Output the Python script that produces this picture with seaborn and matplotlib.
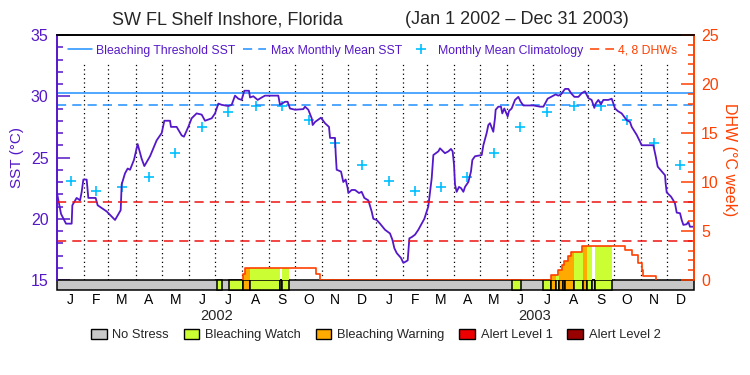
import numpy as np
import pandas as pd
import seaborn as sns
import matplotlib.pyplot as plt
from matplotlib.patches import Patch
from matplotlib.lines import Line2D

# ---- data (x = days since 1 Jan 2002) ----
sst_day = [0, 4.6, 10.3, 16.8, 17.6, 22.5, 26.4, 28.3, 30.2, 34.0, 35.9, 44.3, 46.6, 56.9, 66.5,
           73.0, 74.1, 77.9, 81.0, 83.7, 88.2, 92.4, 97.0, 100.1, 106.6, 114.2, 120.0, 123.0,
           129.5, 130.6, 137.1, 142.9, 145.5, 150.5, 154.3, 160.0, 165.8, 169.6, 177.3, 181.1,
           184.9, 188.7, 196.4, 200.2, 204.0, 207.8, 211.6, 214.7, 220.0, 221.2, 225.0, 230.0,
           234.6, 238.4, 253.6, 255.6, 261.3, 264.3, 267.0, 272.8, 282.3, 284.2, 288.0, 291.9,
           293.0, 295.7, 302.5, 307.1, 311.7, 312.9, 318.6, 319.4, 320.5, 325.5, 328.1, 330.8,
           333.1, 333.9, 337.7, 341.5, 346.1, 349.1, 352.2, 356.8, 360.6, 362.5, 366.3, 370.2,
           375.9, 381.6, 384.3, 386.6, 389.3, 394.2, 396.9, 399.6, 401.9, 403.8, 406.5, 410.3,
           414.1, 417.9, 421.0, 425.5, 427.5, 429.4, 431.3, 437.0, 438.9, 444.6, 448.5, 451.5,
           453.4, 455.0, 456.1, 458.0, 460.7, 463.0, 465.7, 467.6, 471.4, 474.4, 476.0, 479.0,
           486.7, 488.6, 492.4, 494.3, 496.2, 500.0, 501.9, 502.7, 505.8, 508.8, 510.3, 512.6,
           516.5, 518.0, 521.0, 524.9, 528.7, 531.4, 534.4, 545.9, 553.5, 557.4, 562.3, 568.8,
           571.5, 574.5, 577.6, 582.2, 586.0, 589.1, 592.9, 597.5, 601.3, 605.1, 608.9, 612.7,
           615.8, 617.3, 620.4, 623.4, 626.1, 631.8, 635.7, 637.6, 639.5, 642.5, 647.1, 652.9,
           656.7, 658.6, 664.3, 668.1, 670.0, 683.4, 686.1, 688.4, 694.9, 696.8, 697.5, 698.7,
           703.7, 706.3, 708.2, 710.2, 714.0, 715.9, 717.8, 721.6, 723.5, 725.4, 730.0]
sst_val = [22.1, 20.4, 19.6, 19.6, 21.1, 21.7, 21.5, 22.2, 23.2, 23.2, 21.7, 21.7, 21.1, 20.6, 19.9,
           20.7, 22.8, 23.7, 24.1, 24.0, 24.8, 26.1, 24.9, 24.3, 25.1, 26.4, 27.0, 28.0,
           28.0, 27.5, 27.5, 26.8, 26.7, 27.5, 28.2, 28.6, 28.5, 28.0, 28.2, 28.6,
           29.4, 29.3, 29.2, 29.3, 30.05, 29.8, 29.7, 30.45, 30.45, 29.9, 30.0, 29.7,
           29.9, 30.05, 30.05, 29.3, 29.55, 29.55, 29.0, 28.9, 28.95, 29.15, 28.9, 28.2,
           27.65, 27.9, 28.25, 27.8, 27.5, 26.6, 26.6, 25.3, 24.0, 23.85, 23.0, 23.2,
           22.5, 22.1, 22.35, 22.35, 22.1, 22.2, 21.7, 21.5, 20.6, 20.0, 19.9, 19.6,
           19.1, 18.8, 18.3, 17.6, 17.2, 16.8, 16.4, 16.5, 16.6, 18.4, 18.5, 18.7,
           19.1, 19.6, 20.0, 21.0, 22.2, 23.3, 25.2, 25.5, 25.75, 25.35, 25.5, 25.7,
           25.5, 24.4, 22.8, 22.2, 22.6, 22.5, 22.2, 22.6, 23.0, 23.85, 24.8, 25.1,
           25.2, 26.0, 27.0, 27.65, 27.8, 27.1, 28.2, 28.9, 29.15, 29.15, 28.6, 29.0,
           28.35, 28.8, 29.0, 29.7, 29.95, 29.55, 29.25, 29.25, 29.15, 29.15, 29.8, 30.05,
           30.15, 30.05, 30.15, 30.6, 30.6, 30.25, 29.95, 29.95, 30.25, 30.4, 29.85, 29.7,
           29.05, 29.4, 29.7, 29.35, 29.7, 29.7, 29.8, 29.4, 29.0, 28.8, 28.6, 28.05,
           27.9, 27.5, 26.85, 26.3, 26.0, 26.0, 25.1, 24.25, 23.7, 23.55, 22.9, 22.15,
           21.8, 21.5, 21.25, 20.5, 20.45, 19.9, 19.5, 19.55, 19.75, 19.35, 19.35]

clim_sst = [23.1, 22.3, 22.6, 23.4, 25.4, 27.5, 28.7, 29.2, 29.2, 28.1, 26.2, 24.4]
mmm_sst = 29.25
threshold_sst = 30.25
dhw_marks = [4, 8]

dhw_day = [212.8, 212.8, 215.1, 296.8, 301.4,
           566.5, 566.5, 574.1, 578.2, 581.4, 585.3, 588.5, 602.0, 651.0, 659.0, 665.9, 670.1,
           671.9, 686.5]
dhw_val = [0, 0.6, 1.2, 0.6, 0,
           0, 0.5, 1.0, 1.5, 1.9, 2.4, 2.9, 3.5, 3.05, 2.55, 1.7, 1.0, 0.45, 0]

stress_start = [183.0, 196.8, 213.0, 221.5, 255.9, 258.2,
                521.8, 557.3, 566.5, 571.5, 575.3, 579.5, 582.2, 592.8, 602.4, 607.0, 613.5, 616.5]
stress_end = [188.7, 213.0, 221.5, 255.9, 258.2, 266.2,
              532.1, 566.5, 571.5, 575.3, 579.5, 582.2, 592.8, 602.4, 607.0, 613.5, 616.5, 636.4]
stress_level = [1, 1, 2, 1, 0, 1,
                1, 1, 2, 1, 2, 2, 2, 1, 2, 1, 0, 1]

stress_names = ['No Stress', 'Bleaching Watch', 'Bleaching Warning', 'Alert Level 1', 'Alert Level 2']
stress_colors = ['#c8c8c8', '#ccff33', '#ffaa00', '#ee0000', '#990000']
month_letters = ['J', 'F', 'M', 'A', 'M', 'J', 'J', 'A', 'S', 'O', 'N', 'D']
years = ['2002', '2003']
title_left = 'SW FL Shelf Inshore, Florida'
title_right = '(Jan 1 2002 \u2013 Dec 31 2003)'

purple = '#5518c8'
orange = '#ff4000'

months = pd.date_range('2002-01-01', '2004-01-01', freq='MS')
month_day = np.asarray((months - months[0]).days, dtype=float)
mid_month = (month_day[:-1] + month_day[1:]) / 2
year_mid = [month_day[0] / 2 + month_day[12] / 2, month_day[12] / 2 + month_day[24] / 2]

sst = pd.DataFrame({'day': sst_day, 'sst': sst_val})
clim = pd.DataFrame({'day': mid_month, 'sst': clim_sst * 2})
dhw = pd.DataFrame({'day': dhw_day, 'dhw': dhw_val})


def dhw_at(d):
    i = np.searchsorted(dhw['day'].values, d, side='right') - 1
    return 0.0 if i < 0 else dhw['dhw'].values[i]


sns.set_theme(style='white')
plt.rcParams['font.family'] = ['Liberation Sans', 'DejaVu Sans']

fig = plt.figure(figsize=(7.5, 3.75), dpi=100)
ax = fig.add_axes([57 / 750, 1 - 280 / 375, 637 / 750, 245 / 375])
ax_bar = fig.add_axes([57 / 750, 1 - 290 / 375, 637 / 750, 10 / 375])
ax2 = ax.twinx()

# SST side
ax.vlines(month_day[1:-1], 15, 32.7, colors='black', linestyles=(0, (1, 2.5)), lw=0.9)
ax.axhline(threshold_sst, color='#1e90ff', lw=1.1)
ax.axhline(mmm_sst, color='#1e90ff', lw=1.1, ls=(0, (6, 4)))
sns.lineplot(data=sst, x='day', y='sst', ax=ax, color=purple, lw=1.3, sort=False, estimator=None)
sns.scatterplot(data=clim, x='day', y='sst', ax=ax, marker='+', s=50, color='#00bfff', linewidth=1.2)

# DHW side
for v in dhw_marks:
    ax2.axhline(v, color='#ee1111', lw=1.1, ls=(0, (6, 4)))
for s, e, lv in zip(stress_start, stress_end, stress_level):
    if lv == 0:
        continue
    xs = [s] + [d for d in dhw['day'] if s < d < e] + [e]
    ys = [dhw_at(x) for x in xs]
    ax2.fill_between(xs, 0, ys, step='post', color=stress_colors[lv], lw=0)
sns.lineplot(data=dhw, x='day', y='dhw', ax=ax2, color=orange, lw=1.2, sort=False,
             estimator=None, drawstyle='steps-post')

# stress bar
ax_bar.barh(0.5, month_day[-1], left=0, height=1, color=stress_colors[0], edgecolor='black',
            lw=1.1, clip_on=False)
for s, e, lv in zip(stress_start, stress_end, stress_level):
    ax_bar.barh(0.5, e - s, left=s, height=1, color=stress_colors[lv], edgecolor='black',
                lw=1.1, clip_on=False)

for a in (ax, ax2, ax_bar):
    a.set_xlim(0, month_day[-1])
ax.set_ylim(15, 35)
ax2.set_ylim(0, 25)
ax_bar.set_ylim(0, 1)

ax.set_xlabel('')
ax.set_ylabel('')
ax2.set_xlabel('')
ax2.set_ylabel('')
ax.tick_params(axis='x', bottom=False, labelbottom=False)
ax2.tick_params(axis='x', bottom=False, labelbottom=False)

ax.set_yticks(np.arange(15, 36, 5))
ax.set_yticks(np.arange(15, 36, 1), minor=True)
ax.tick_params(axis='y', which='both', direction='in', colors=purple, width=1.1, labelsize=11.5,
               pad=6, left=True)
ax.tick_params(axis='y', which='major', length=9.5)
ax.tick_params(axis='y', which='minor', length=4.5)

ax2.set_yticks(np.arange(0, 26, 5))
ax2.set_yticks(np.arange(0, 26, 1), minor=True)
ax2.tick_params(axis='y', which='both', direction='in', colors=orange, width=1.1, labelsize=11.5,
                pad=5, right=True)
ax2.tick_params(axis='y', which='major', length=9.5)
ax2.tick_params(axis='y', which='minor', length=4.5)

for a in (ax, ax2):
    a.spines['bottom'].set_visible(False)
    a.spines['top'].set_color('black')
    a.spines['top'].set_linewidth(1.2)
    a.spines['left'].set_color(purple)
    a.spines['left'].set_linewidth(1.2)
    a.spines['right'].set_color(orange)
    a.spines['right'].set_linewidth(1.2)
    a.grid(False)

for sp in ax_bar.spines.values():
    sp.set_visible(False)
ax_bar.set_yticks([])
ax_bar.set_xticks(mid_month)
ax_bar.set_xticklabels(month_letters * 2)
ax_bar.tick_params(axis='x', length=0, pad=2, labelsize=10, colors='black')
for x, y in zip(year_mid, years):
    ax_bar.text(x, -2.55, y, transform=ax_bar.get_xaxis_transform(), ha='center', va='center',
                fontsize=10.5)

# legends
top_handles = [Line2D([], [], color='#1e90ff', lw=1.1),
               Line2D([], [], color='#1e90ff', lw=1.1, ls=(0, (6, 4))),
               Line2D([], [], color='#00bfff', ls='', marker='+', ms=7, mew=1.2),
               Line2D([], [], color=orange, lw=1.1, ls=(0, (6, 4)))]
top_labels = ['Bleaching Threshold SST', 'Max Monthly Mean SST', 'Monthly Mean Climatology',
              '4, 8 DHWs']
leg = ax2.legend(top_handles, top_labels, ncol=4, frameon=False, fontsize=8.8, loc='center',
                 bbox_to_anchor=(0.496, 0.936), handlelength=1.9, handletextpad=0.4,
                 columnspacing=0.6)
for t, c in zip(leg.get_texts(), [purple, purple, purple, orange]):
    t.set_color(c)

bottom_handles = [Patch(facecolor=c, edgecolor='black', lw=1) for c in stress_colors]
fig.legend(bottom_handles, stress_names, ncol=5, frameon=False, fontsize=9.3, loc='center',
           bbox_to_anchor=(0.501, 1 - 335 / 375), handlelength=1.2, handleheight=0.85,
           handletextpad=0.45, columnspacing=1.15)

fig.text(227 / 750, 1 - 20 / 375, title_left, ha='center', va='center', fontsize=13)
fig.text(517 / 750, 1 - 20 / 375, title_right, ha='center', va='center', fontsize=13)
fig.text(17 / 750, 1 - 157 / 375, 'SST (\u00b0C)', rotation=90, ha='center', va='center',
         color=purple, fontsize=11)
fig.text(730 / 750, 1 - 160 / 375, 'DHW (\u00b0C week)', rotation=-90, ha='center', va='center',
         color=orange, fontsize=11.5)

fig.savefig('out.png', dpi=100)
